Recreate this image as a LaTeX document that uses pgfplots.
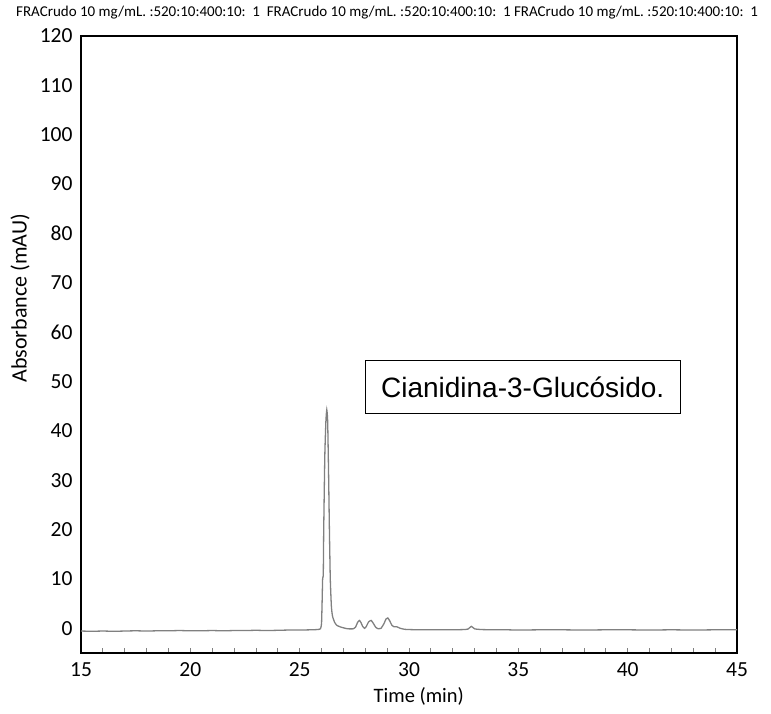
\documentclass[border=0pt]{standalone}
\usepackage{pgfplots}
\pgfplotsset{compat=1.18}
\usepackage{fontspec}
\setmainfont{Carlito}
\newfontfamily\arialf{Liberation Sans}
\begin{document}
\begin{tikzpicture}
\useasboundingbox (-81pt,-60pt) rectangle (690pt,653pt);
\begin{axis}[at={(0,0)}, anchor=south west, scale only axis,
  width=656pt, height=617pt,
  xmin=15, xmax=45, ymin=-5, ymax=120,
  xtick={15,20,...,45}, ytick={0,10,...,120},
  minor x tick num=4, tick align=inside,
  xtick pos=bottom, ytick pos=left,
  major tick length=5pt, minor tick length=5pt,
  ytick style={draw=none},
  xtick style={line width=0.8pt},
  axis line style={line width=1.6pt},
  ticklabel style={font=\fontsize{21.5}{25}\selectfont},
  /pgf/number format/assume math mode=true,
  xticklabel style={yshift=-6pt},
  yticklabel style={xshift=-5pt},
  xlabel={Time (min)}, ylabel={Absorbance (mAU)},
  xlabel style={font=\fontsize{20.5}{24}\selectfont, at={(axis description cs:0.515,-0.071)}, anchor=center},
  ylabel style={font=\fontsize{22}{26}\selectfont, at={(axis description cs:-0.093,0.575)}, anchor=center},
  clip=false]
\addplot[color=black!50, line width=1.3pt, smooth, tension=0.3] coordinates {
(15.0,-0.55) (15.5,-0.6) (16,-0.55) (16.5,-0.6) (17,-0.55) (17.5,-0.5) (18,-0.55) (18.5,-0.5) (19,-0.5) (19.5,-0.45) (20,-0.5) (20.5,-0.5) (21,-0.45) (21.5,-0.5) (22,-0.45) (22.5,-0.45) (23,-0.4) (23.5,-0.45) (24,-0.4) (24.5,-0.35) (25,-0.35) (25.5,-0.3) (25.8,-0.25) (25.95,-0.1) (26.0,1.0) (26.03,6) (26.05,10) (26.08,11) (26.1,20) (26.15,35) (26.2,42) (26.24,44.3) (26.28,42) (26.32,32) (26.36,20) (26.4,10) (26.45,4.5) (26.5,2.5) (26.6,1.2) (26.7,0.6) (26.85,0.3) (27.0,0.1) (27.2,-0.1) (27.45,-0.1) (27.55,0.2) (27.65,1.2) (27.73,1.6) (27.8,1.2) (27.88,0.4) (27.97,0.0) (28.05,0.4) (28.15,1.3) (28.27,1.6) (28.37,1.0) (28.48,0.2) (28.6,-0.1) (28.72,0.0) (28.85,0.9) (28.95,1.9) (29.03,2.1) (29.12,1.5) (29.22,0.6) (29.32,0.3) (29.45,0.3) (29.6,0.0) (29.8,-0.2) (30,-0.25) (30.5,-0.3) (31,-0.3) (31.5,-0.3) (32,-0.3) (32.5,-0.25) (32.7,-0.15) (32.85,0.4) (33.0,-0.1) (33.3,-0.25) (34,-0.3) (34.5,-0.3) (35,-0.35) (36,-0.3) (37,-0.3) (38,-0.35) (39,-0.3) (40,-0.3) (41,-0.35) (42,-0.3) (43,-0.35) (44,-0.3) (45,-0.3)
};
\node[draw, line width=1.3pt, minimum width=315pt, minimum height=53pt, inner sep=0pt,
  font=\arialf\fontsize{28}{32}\selectfont] at (axis cs:35.2,48.9) {Cianidina-3-Glucósido.};
\end{axis}
\node[font=\fontsize{15}{18}\selectfont] at (306pt,640pt) {FRACrudo 10 mg/mL. :520:10:400:10:\ \ 1\ \ FRACrudo 10 mg/mL. :520:10:400:10:\ \ 1 FRACrudo 10 mg/mL. :520:10:400:10:\ \ 1};
\end{tikzpicture}
\end{document}
